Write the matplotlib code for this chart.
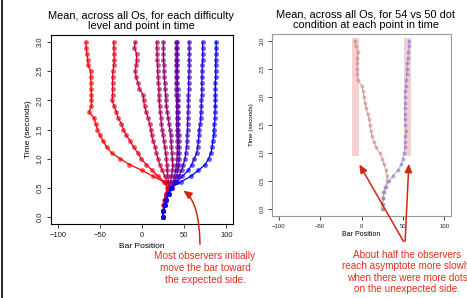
import matplotlib
matplotlib.use("Agg")
import matplotlib.pyplot as plt
from matplotlib.patches import Rectangle, FancyArrowPatch
from matplotlib.lines import Line2D
from matplotlib.colors import LinearSegmentedColormap

plt.rcParams['font.family'] = ['Liberation Sans', 'DejaVu Sans']

# time points (seconds), one sample every 0.1 s
times = [round(0.1 * i, 1) for i in range(31)]

# left panel: mean bar position per difficulty level (red -> blue)
level1 = [25, 25, 25.5, 26.5, 28, 30, 26, 13, 0, -15, -26, -36, -42, -46, -50, -53,
          -55, -57, -63, -60, -60, -60, -60.5, -60.5, -61, -61, -64, -64.5, -65.5, -66, -67]
level2 = [25, 25.5, 26, 27, 29, 31, 27, 19, 12, 5, -1, -5, -10, -14, -18.5, -22,
          -24.5, -28.5, -30.5, -33, -35.5, -35, -35, -35, -35, -34.5, -33.5, -33, -33, -33.5, -33.5]
level3 = [25, 25.5, 26, 27.5, 29.5, 32, 30, 27, 24, 21, 19, 17, 15.5, 13, 11.5, 10.5,
          9, 7, 5, 3, 2, 1, -3, -5, -7, -8, -7, -6.5, -6.5, -9, -8]
level4 = [25, 25.5, 26.5, 28, 30, 32.5, 31.5, 30.5, 30, 29.5, 29, 28, 27, 26, 25, 24,
          23, 22.5, 21.5, 21, 20.5, 20, 20, 19.5, 19, 18.5, 18.5, 18, 18, 17.5, 17.5]
level5 = [25, 25.5, 26.5, 28, 30.5, 33, 34, 35, 36, 36.5, 36, 35.5, 35, 34.5, 34, 33,
          32, 31, 30, 29, 28.5, 28, 27.5, 27, 26.5, 26, 26, 25.5, 25.5, 25.5, 25.5]
level6 = [25, 25.5, 27, 28.5, 31, 34, 37, 38.5, 40, 41, 41.5, 42, 42, 42, 41.5, 41.5,
          41, 41, 41, 41, 41, 40.5, 40.5, 40.5, 40.5, 40.5, 40.5, 40.5, 40.5, 40.5, 40.5]
level7 = [25, 25.5, 27, 29, 31.5, 35, 38.5, 41, 42.5, 43.5, 44, 44, 44, 43.5, 43.5, 43,
          43, 43, 43, 42.5, 42.5, 42.5, 42.5, 42, 42, 42, 42, 42, 42, 42, 42]
level8 = [25, 25.5, 27, 29, 32, 36, 40, 44, 47, 49, 51, 52, 53, 53.5, 53.5, 54,
          54, 54.5, 54.5, 55, 55, 55, 55.5, 55.5, 55.5, 56, 56, 56, 56, 56, 56]
level9 = [25, 25.5, 27, 29, 32, 36, 41, 48, 55, 59, 62, 65, 66, 67, 67.5, 68,
          69, 69.5, 70, 70.5, 70.5, 71, 71, 71, 71, 71.5, 71.5, 72, 72, 72, 72]
level10 = [25, 25.5, 27, 29, 32, 34, 46, 58, 67, 75, 79, 82, 83, 84, 85, 85.5,
           86, 86.5, 86.5, 87, 87, 87, 87, 87, 87.5, 87.5, 87.5, 87.5, 88, 88, 88]
levels = [level1, level2, level3, level4, level5, level6, level7, level8, level9, level10]

# right panel: 54 vs 50 dot condition, two groups of observers
slow_group = [24.5, 25, 25.5, 26.5, 28.5, 31, 31, 29.5, 27, 25, 22, 17.5, 15, 12.5, 11, 10.5,
              9, 7.5, 5.5, 4, 3, 2, 0, -4, -5.5, -5.5, -5, -5, -4.5, -7, -8]
fast_group = [25.5, 25.5, 26.5, 27.5, 29.5, 33, 38, 44.5, 48, 50, 51.5, 52, 52.5, 53, 53.5, 53,
              52.5, 52, 52, 52.5, 52.5, 53, 53.5, 54, 54.5, 55, 55.5, 56, 56.5, 57, 57.5]
# asymptote bands (x from, x to, t from, t to)
bands = [(-11.5, -3, 0.95, 3.04), (51.5, 60, 0.95, 3.04)]

W, H = 467, 298
fig = plt.figure(figsize=(W / 100, H / 100), dpi=100)


def box(l, t, r, b):
    return [l / W, 1 - b / H, (r - l) / W, (b - t) / H]


def px(x, y):
    return (x / W, 1 - y / H)


def r_axes(ax, tick_size, frame_color):
    ax.set_xlim(-108, 108)
    ax.set_ylim(-0.12, 3.12)
    ax.set_xticks([-100, -50, 0, 50, 100])
    ax.set_yticks([0, 0.5, 1, 1.5, 2, 2.5, 3])
    ax.set_yticklabels(["0.0", "0.5", "1.0", "1.5", "2.0", "2.5", "3.0"],
                       rotation=90, va="center")
    ax.tick_params(labelsize=tick_size, length=3, width=0.6, pad=2.5,
                   colors="#222222")
    for s in ax.spines.values():
        s.set_color(frame_color)
        s.set_linewidth(0.8)


# ---- left panel
ax1 = fig.add_axes(box(51, 35, 233, 224))
cmap = LinearSegmentedColormap.from_list("rb", ["#ff0000", "#0000ff"])
for i, vals in enumerate(levels):
    c = cmap(i / (len(levels) - 1))
    ax1.plot(vals, times, color=c, lw=0.9)
    ax1.plot(vals, times, "o", color=c, ms=3.5, mew=0, alpha=0.65)
r_axes(ax1, 5.5, "black")
ax1.set_xlabel("Bar Position", fontsize=6, labelpad=3)
ax1.set_ylabel("Time (seconds)", fontsize=6, labelpad=3)
fig.text(141 / W, 1 - 21 / H, "Mean, across all Os, for each difficulty\nlevel and point in time",
         ha="center", va="center", fontsize=7.9, linespacing=1.1)

# ---- right panel
ax2 = fig.add_axes(box(272, 34, 451, 216))
for x0, x1, t0, t1 in bands:
    ax2.add_patch(Rectangle((x0, t0), x1 - x0, t1 - t0, facecolor="#f4d0d0",
                            edgecolor="none", zorder=0))
ax2.plot(slow_group, times, color="#d9a8a8", lw=0.8)
ax2.plot(slow_group, times, "o", color="#cc8080", ms=2.8, mew=0, alpha=0.55)
ax2.plot(fast_group, times, color="#b0b0e4", lw=0.8)
ax2.plot(fast_group, times, "o", color="#8070c0", ms=2.8, mew=0, alpha=0.55)
r_axes(ax2, 4.3, "#999999")
ax2.set_xlabel("Bar Position", fontsize=5, labelpad=2)
ax2.set_ylabel("Time (seconds)", fontsize=4.5, labelpad=4)
fig.text(366 / W, 1 - 20 / H, "Mean, across all Os, for 54 vs 50 dot\ncondition at each point in time",
         ha="center", va="center", fontsize=7.9, linespacing=1.1)

# ---- annotations
red = "#e0301e"
fig.text(205 / W, 1 - 268 / H, "Most observers initially\nmove the bar toward\nthe expected side.",
         ha="center", va="center", fontsize=7.2, color=red, linespacing=1.25)
fig.text(407 / W, 1 - 272 / H,
         "About half the observers\nreach asymptote more slowly\nwhen there were more dots\non the unexpected side.",
         ha="center", va="center", fontsize=7.2, color=red, linespacing=1.15)

arrow = dict(arrowstyle="-|>,head_length=0.5,head_width=0.22", color="#cc2a10", lw=1.1)
fig.patches.append(FancyArrowPatch(
    px(200, 247), px(181, 189), transform=fig.transFigure,
    connectionstyle="angle3,angleA=90,angleB=-30", mutation_scale=10, **arrow))
fig.patches.append(FancyArrowPatch(
    px(405, 244), px(358, 162), transform=fig.transFigure, mutation_scale=10, **arrow))
fig.patches.append(FancyArrowPatch(
    px(405, 244), px(409, 161), transform=fig.transFigure, mutation_scale=10, **arrow))

# slide border on the left edge
fig.add_artist(Line2D([1.5 / W, 1.5 / W], [0, 1], transform=fig.transFigure,
                      color="black", lw=1.2))

fig.savefig("out.png", dpi=100)
